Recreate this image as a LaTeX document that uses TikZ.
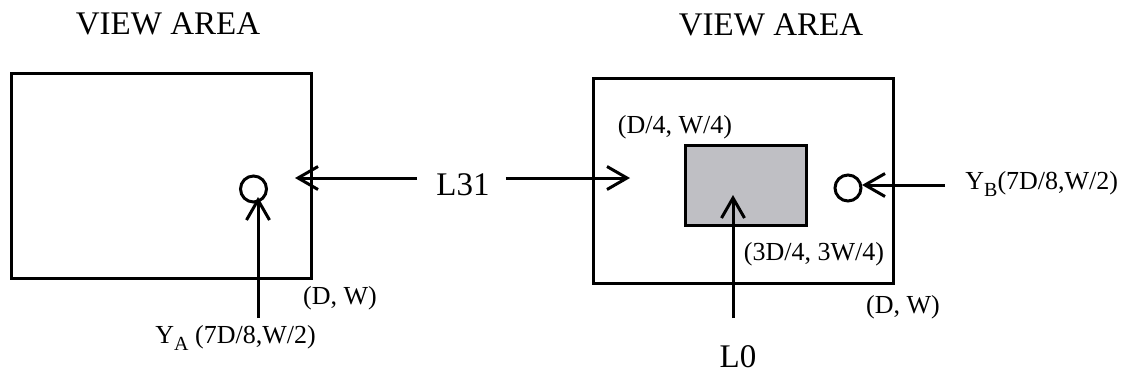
\documentclass[tikz,border=0pt]{standalone}
\usepackage{fontspec}
\setmainfont{Liberation Serif}
\usetikzlibrary{arrows.meta}
\definecolor{spotgray}{RGB}{191,191,196}
\newcommand{\lowsub}[1]{\raisebox{-3.5pt}{\fontsize{10}{10}\selectfont #1}}

\begin{document}
\begin{tikzpicture}[x=0.5pt, y=-0.5pt,
  area/.style={draw, line width=1.5pt, minimum width=150pt, minimum height=102.5pt, inner sep=0pt},
  spot/.style={draw, line width=1.5pt, fill=spotgray, minimum width=60.5pt, minimum height=40pt, inner sep=0pt},
  probe/.style={draw, circle, line width=1.5pt, minimum size=13pt, inner sep=0pt},
  title/.style={font=\fontsize{16.5}{19}\selectfont, inner sep=0pt},
  coord/.style={font=\fontsize{13}{15}\selectfont, inner sep=0pt},
  arr/.style={-{Straight Barb[length=10pt,width=11.5pt]}, line width=1.5pt}
]
\useasboundingbox (0,0) rectangle (1123,376);
% two view areas
\node[area] (areaA) at (161,175.5) {};
\node[area] (areaB) at (743,180.5) {};
\node[spot] (center) at (745.5,185) {};
\node[probe] (probeA) at (253.5,189) {};
\node[probe] (probeB) at (848,188) {};
% labels
\node[title] (viewA) at (168,24) {VIEW AREA};
\node[title] (viewB) at (771,25) {VIEW AREA};
\node[title] (L31) at (463,185) {L31};
\node[title] (L0) at (738,357) {L0};
\node[coord] (quarter) at (675,127) {(D/4, W/4)};
\node[coord] (threeq) at (814,254) {(3D/4, 3W/4)};
\node[coord] (cornerA) at (340,298) {(D, W)};
\node[coord] (cornerB) at (903,307) {(D, W)};
\node[coord, anchor=base west] (yA) at (155,343) {Y\lowsub{A} (7D/8,W/2)};
\node[coord, anchor=base west] (yB) at (965,189) {Y\lowsub{B}(7D/8,W/2)};
% measuring directions
\coordinate (tipA) at (258,197);
\coordinate (footA) at (258,318);
\coordinate (tipL) at (295,178);
\coordinate (tipR) at (630,178);
\coordinate (tipB) at (862,185);
\coordinate (footB) at (945,185);
\coordinate (tip0) at (733,195);
\coordinate (foot0) at (733,318);
\draw[arr] (L31.west |- tipL) ++(-19,0) -- (tipL);
\draw[arr] (L31.east |- tipR) ++(16,0) -- (tipR);
\draw[arr] (footA) -- (tipA);
\draw[arr] (footB) -- (tipB);
\draw[arr] (foot0) -- (tip0);
\end{tikzpicture}
\end{document}
